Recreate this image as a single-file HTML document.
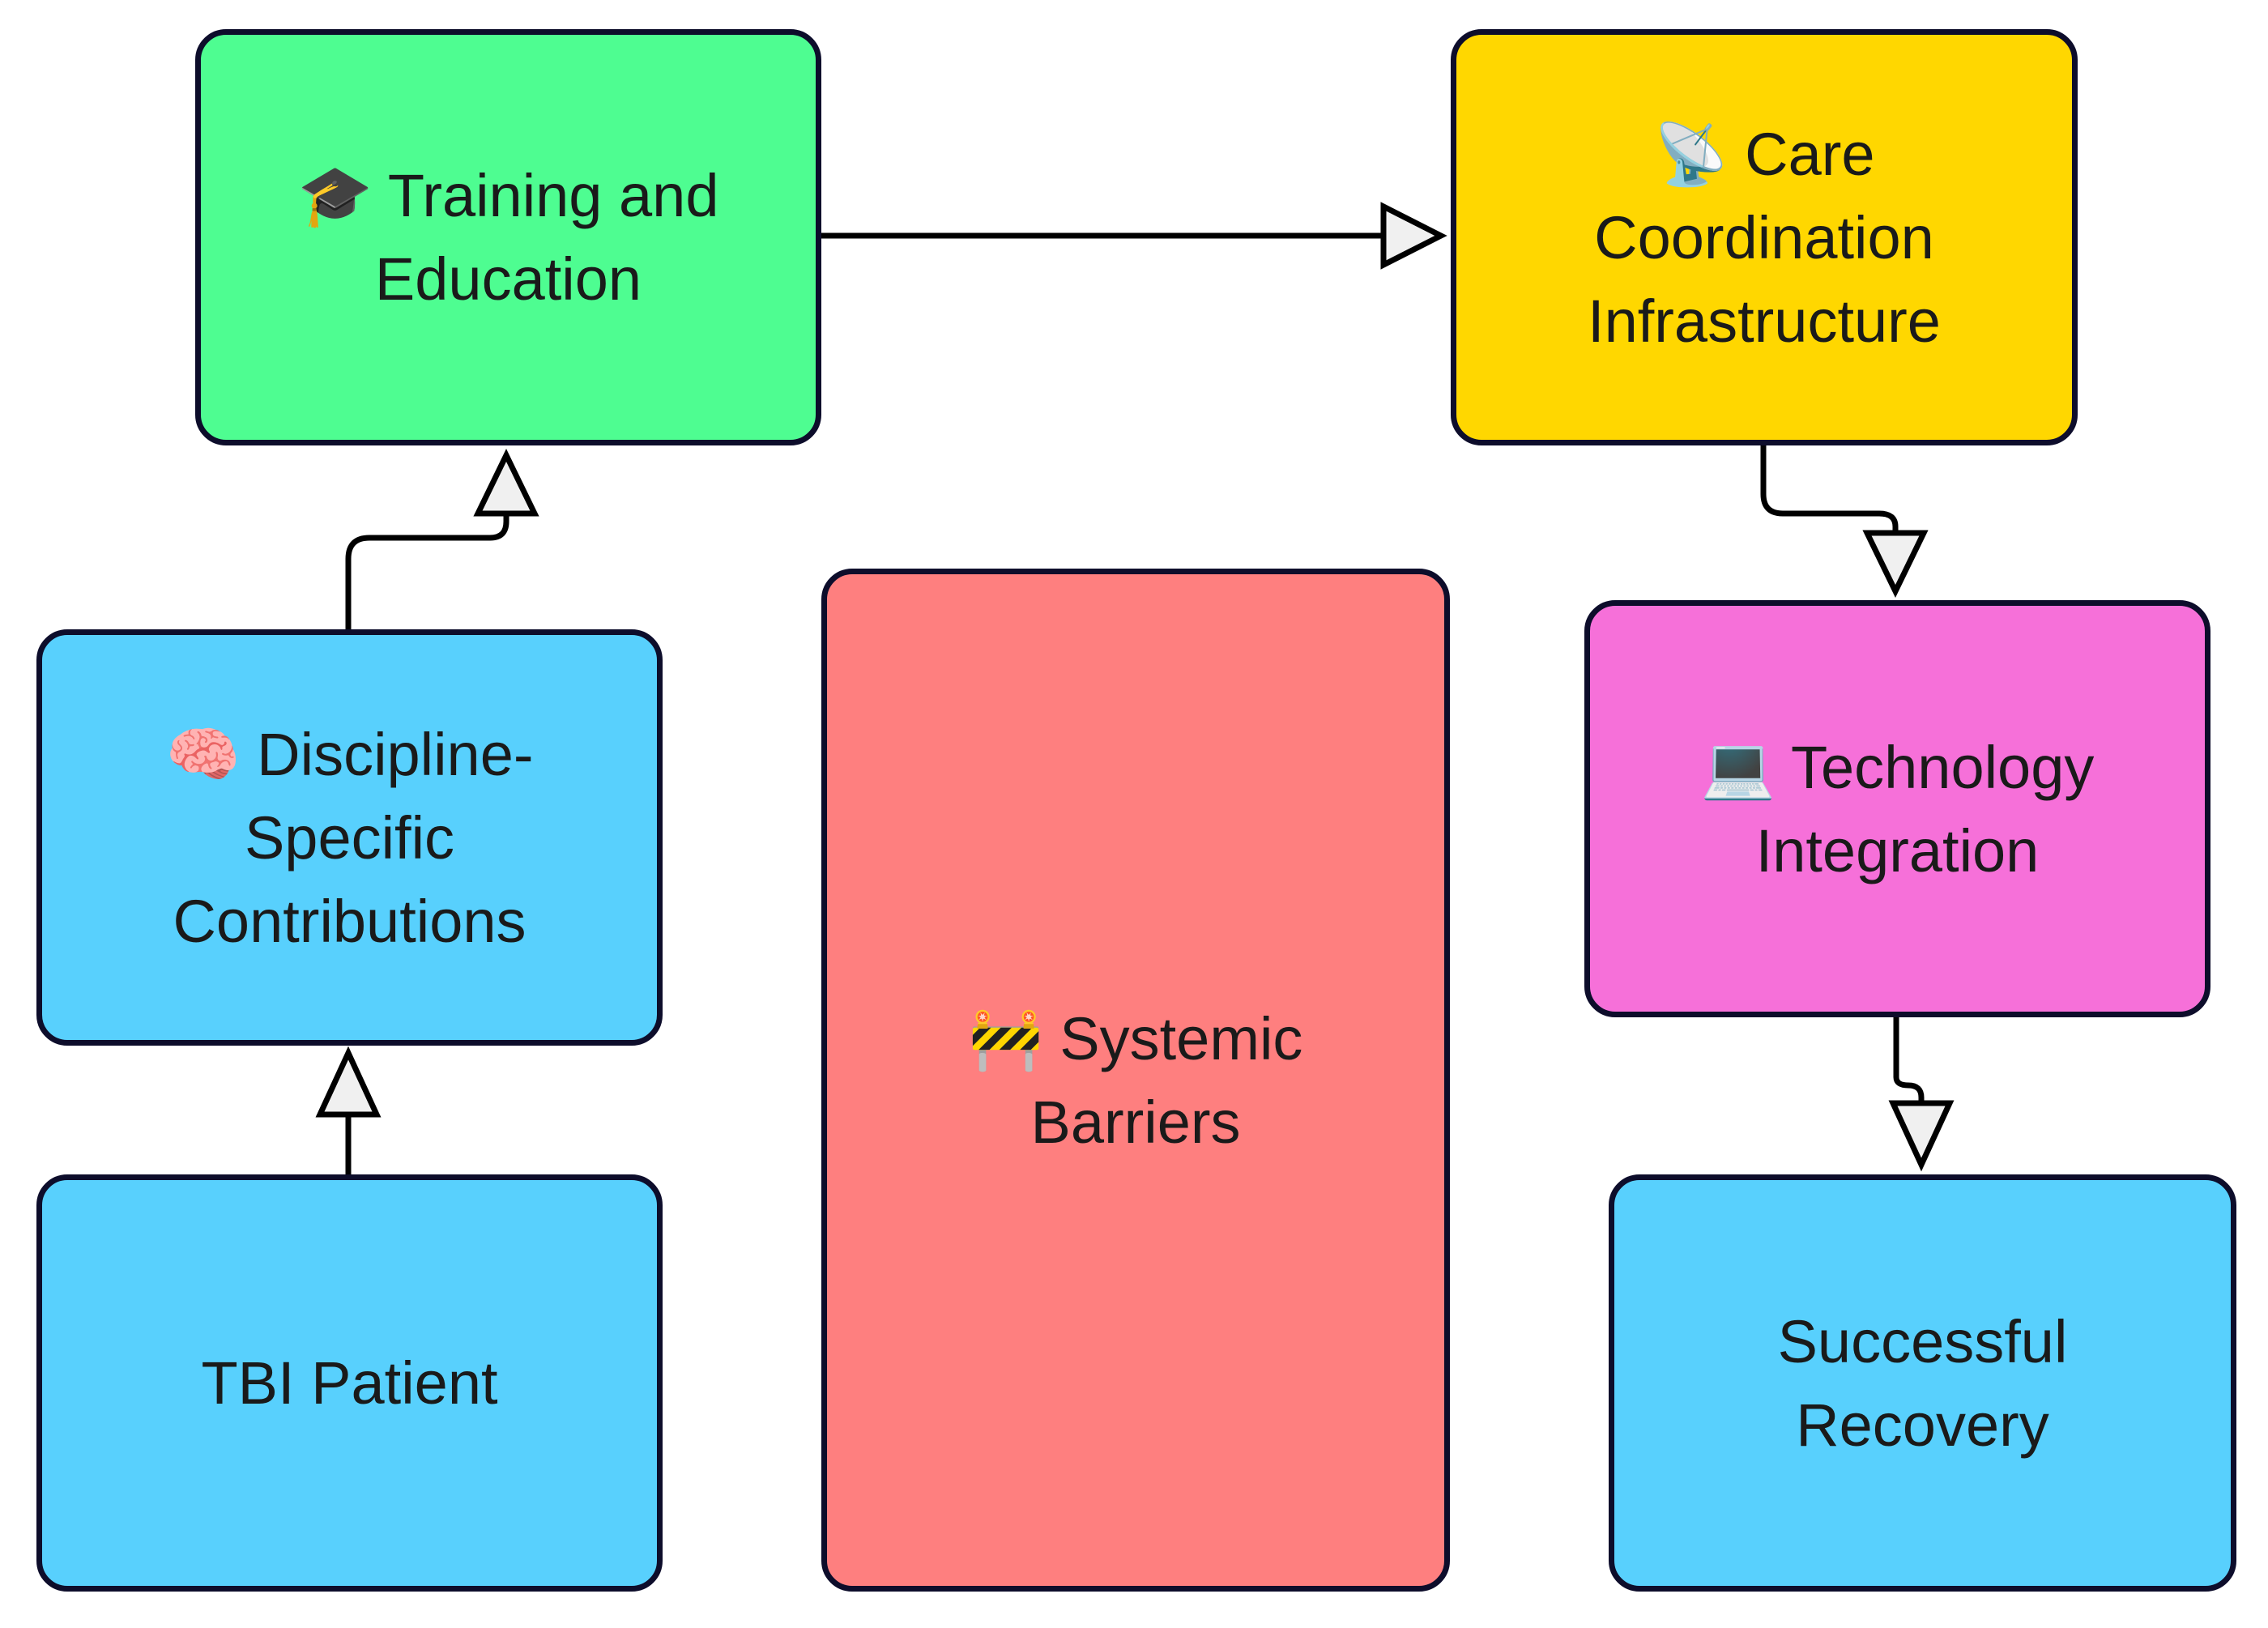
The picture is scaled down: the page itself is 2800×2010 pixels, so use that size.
<!DOCTYPE html>
<html><head><meta charset="utf-8"><style>
html,body{margin:0;padding:0;background:#fff;}
body{width:2800px;height:2010px;position:relative;overflow:hidden;font-family:"Liberation Sans","DejaVu Sans",sans-serif;}
.n{position:absolute;box-sizing:border-box;border:7px solid #0d0d2b;border-radius:38px;display:flex;align-items:center;justify-content:center;text-align:center;font-size:74px;line-height:103px;color:#1a1a1a;}
svg{position:absolute;left:0;top:0;}
</style></head><body>
<div class="n" style="left:241px;top:36px;width:773px;height:514px;background:#4efd91;"><div>🎓 Training and<br>Education</div></div>
<div class="n" style="left:1791px;top:36px;width:774px;height:514px;background:#ffd700;"><div>📡 Care<br>Coordination<br>Infrastructure</div></div>
<div class="n" style="left:45px;top:777px;width:773px;height:514px;background:#58d0fd;"><div>🧠 Discipline-<br>Specific<br>Contributions</div></div>
<div class="n" style="left:45px;top:1450px;width:773px;height:515px;background:#58d0fd;"><div>TBI Patient</div></div>
<div class="n" style="left:1014px;top:702px;width:776px;height:1263px;background:#fe7f7f;"><div>🚧 Systemic<br>Barriers</div></div>
<div class="n" style="left:1956px;top:741px;width:773px;height:515px;background:#f670d9;"><div>💻 Technology<br>Integration</div></div>
<div class="n" style="left:1986px;top:1450px;width:775px;height:515px;background:#58d0fd;"><div>Successful<br>Recovery</div></div>
<svg width="2800" height="2010" viewBox="0 0 2800 2010">
<g fill="none" stroke="#000" stroke-width="7" stroke-linejoin="round">
<path d="M1014 291 H1708"/>
<path d="M430 777 V690 Q430 664 456 664 H605 Q625 664 625 644 V634"/>
<path d="M430 1450 V1376"/>
<path d="M2177 550 V610 Q2177 634 2201 634 H2320 Q2340 634 2340 650 V657"/>
<path d="M2341 1256 V1330 Q2341 1340 2356 1340 Q2372 1340 2372 1355 V1362"/>
</g>
<g fill="#f0f0f0" stroke="#000" stroke-width="7" stroke-linejoin="miter">
<polygon points="1708,255 1708,327 1779,291"/>
<polygon points="590,634 660,634 625,562"/>
<polygon points="395,1376 465,1376 430,1300"/>
<polygon points="2305,658 2375,658 2340,730"/>
<polygon points="2337,1362 2407,1362 2372,1438"/>
</g>
</svg>
</body></html>
